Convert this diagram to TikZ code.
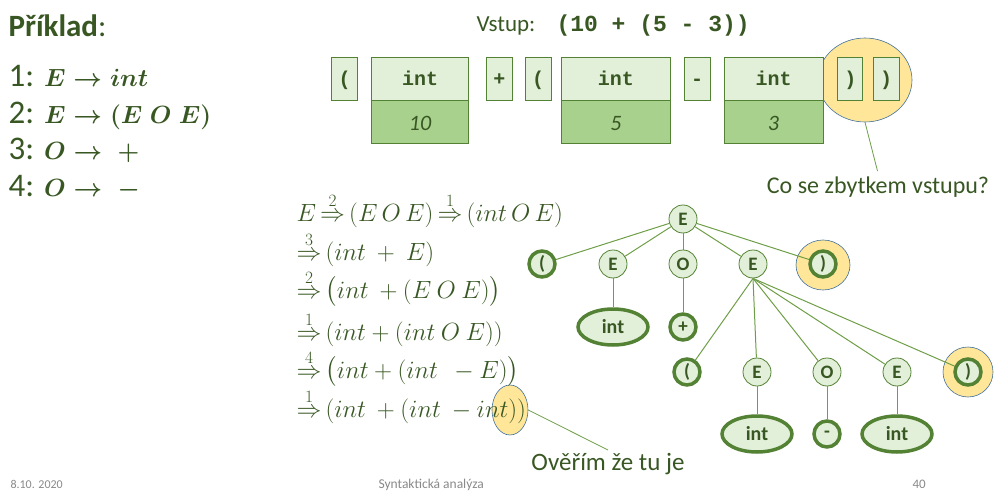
\documentclass[tikz,border=0pt]{standalone}
\usepackage{amsmath}
\usepackage{fontspec}
\setmainfont{Carlito}
\setmonofont{Liberation Mono}
\usetikzlibrary{positioning,shapes.geometric}
\definecolor{txtgreen}{HTML}{385723}
\definecolor{boxgreen}{HTML}{548235}
\definecolor{lightgreen}{HTML}{E2F0D9}
\definecolor{midgreen}{HTML}{A9D18E}
\definecolor{edgegreen}{HTML}{6F9E48}
\definecolor{hlyellow}{HTML}{FFE699}
\definecolor{hlblue}{HTML}{41719C}
\definecolor{footgray}{HTML}{898989}
\newcommand{\fs}[1]{\fontsize{#1}{#1}\selectfont}
\newcommand{\dfont}{\fs{24}\thickmuskip=3mu\relax}

\begin{document}
\begin{tikzpicture}[x=1pt, y=-1pt,
  tok/.style={draw=boxgreen, fill=lightgreen, line width=0.8pt, minimum height=43pt,
    inner sep=0pt, text height=17pt, text depth=2pt, text=txtgreen, font=\fs{20}\ttfamily\bfseries},
  val/.style={tok, fill=midgreen, text height=17pt, text depth=0pt, font=\fs{22}\itshape},
  hl/.style={ellipse, draw=hlblue, fill=hlyellow, line width=0.6pt, inner sep=0pt},
  nt/.style={circle, draw=boxgreen, fill=lightgreen, line width=0.8pt, minimum size=28pt,
    inner sep=0pt, text=txtgreen, font=\fs{19}\bfseries},
  term/.style={nt, line width=3.5pt, minimum size=26pt},
  termint/.style={term, ellipse, minimum width=70pt, minimum height=36pt, font=\fs{20}\bfseries},
  edge/.style={draw=edgegreen, line width=1pt},
  lab/.style={text=txtgreen, anchor=base west},
  foot/.style={text=footgray, anchor=base west}
]
\useasboundingbox (0,0) rectangle (1004,492);

% grammar
\node[lab, font=\fs{31}] (title) at (5,37) {\textbf{Příklad}:};
\node[lab, font=\fs{33}\boldmath] (r1) at (5,87) {1: $E \rightarrow int$};
\node[lab, font=\fs{33}\boldmath] (r2) at (5,124) {2: $E \rightarrow (E\ O\ E)$};
\node[lab, font=\fs{33}\boldmath] (r3) at (5,160) {3: $O \rightarrow\ +$};
\node[lab, font=\fs{33}\boldmath] (r4) at (5,196) {4: $O \rightarrow\ -$};

% input
\node[lab, font=\fs{23}] (vstup) at (473,32) {Vstup:};
\node[lab, font=\fs{23}\ttfamily\bfseries] (expr) at (553,32) {(10 + (5 - 3))};

\node[hl, minimum width=94pt, minimum height=84pt] (hl1) at (865,80) {};
\node[tok, minimum width=26pt] (lp1) at (344.7,78.5) {(};
\node[tok, minimum width=97pt, right=13pt of lp1] (int1) {int};
\node[val, minimum width=97pt, below=0pt of int1] (v1) {10};
\node[tok, minimum width=26pt, right=17pt of int1] (plus1) {+};
\node[tok, minimum width=26pt, right=12pt of plus1] (lp2) {(};
\node[tok, minimum width=109pt, right=9.5pt of lp2] (int2) {int};
\node[val, minimum width=109pt, below=0pt of int2] (v2) {5};
\node[tok, minimum width=26pt, right=13pt of int2] (minus1) {-};
\node[tok, minimum width=99pt, right=13pt of minus1] (int3) {int};
\node[val, minimum width=99pt, below=0pt of int3] (v3) {3};
\node[tok, minimum width=25pt, right=14pt of int3] (rp1) {)};
\node[tok, minimum width=26pt, right=9.5pt of rp1] (rp2) {)};

\node[lab, font=\fs{24}, anchor=north] (rest) at (878,173) {Co se zbytkem vstupu?};
\draw[edgegreen, line width=0.8pt, shorten >=2pt] (hl1.south) -- (rest.north);

% derivation
\node[hl, minimum width=36pt, minimum height=50pt] (hl2) at (510,410) {};
\begin{scope}[every node/.style={lab, font=\dfont}]
\node (d1) at (293,221) {$E \overset{2}{\Rightarrow} (E\,O\,E) \overset{1}{\Rightarrow} (int\,O\,E)$};
\node (d2) at (293,260) {$\overset{3}{\Rightarrow} (int\ +\ E)$};
\node (d3) at (293,298) {$\overset{2}{\Rightarrow} \big(int\ + (E\ O\ E)\big)$};
\node (d4) at (293,340) {$\overset{1}{\Rightarrow} (int + (int\ O\ E))$};
\node (d5) at (293,378) {$\overset{4}{\Rightarrow} \big(int + (int\ \ - E)\big)$};
\node (d6) at (293,417) {$\overset{1}{\Rightarrow} (int\ + (int\ - int))$};
\end{scope}
\node[lab, font=\fs{25}, anchor=north] (here) at (608,450) {Ověřím že tu je};
\draw[edgegreen, line width=0.8pt] (hl2.east) -- (here.north);

% derivation tree
\node[hl, minimum width=54pt, minimum height=50pt] (hl3) at (823,265) {};
\node[hl, minimum width=50pt, minimum height=50pt] (hl4) at (968,372) {};
\node[nt] (root) at (683,219) {E};
\node[term] (lpa) at (542,264) {(};
\node[nt] (ea) at (613,264) {E};
\node[nt] (oa) at (683,264) {O};
\node[nt] (eb) at (753,264) {E};
\node[term] (rpa) at (823,264) {)};
\node[termint] (inta) at (613,327) {int};
\node[term] (plusa) at (683,327) {+};
\node[term] (lpb) at (687,372) {(};
\node[nt] (ec) at (757,372) {E};
\node[nt] (ob) at (827,372) {O};
\node[nt] (ed) at (897,372) {E};
\node[term] (rpb) at (968,372) {)};
\node[termint] (intb) at (757,434) {int};
\node[term] (minusa) at (827,434) {-};
\node[termint] (intc) at (897,434) {int};

\foreach \c in {lpa,ea,oa,eb,rpa} \draw[edge] (root) -- (\c);
\draw[edge] (ea) -- (inta);
\draw[edge] (oa) -- (plusa);
\foreach \c in {lpb,ec,ob,ed,rpb} \draw[edge] (eb.south) -- (\c);
\draw[edge] (ec) -- (intb);
\draw[edge] (ob) -- (minusa);
\draw[edge] (ed) -- (intc);

% footer
\node[foot, font=\fs{12}] (date) at (7,488) {8.10. 2020};
\node[foot, font=\fs{13.5}] (topic) at (375,488) {Syntaktická analýza};
\node[foot, font=\fs{13}] (page) at (909,488) {40};
\end{tikzpicture}
\end{document}
